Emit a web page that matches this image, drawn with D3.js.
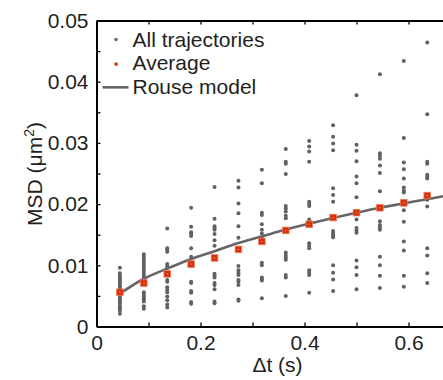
<!DOCTYPE html>
<html>
<head>
<meta charset="utf-8">
<script src="https://cdn.jsdelivr.net/npm/d3@7"></script>
<style>
  body { margin: 0; background: #fff; }
  svg { display: block; font-family: "Liberation Sans", Arial, sans-serif; }
</style>
</head>
<body>
<svg id="chart" width="443" height="380"></svg>
<script>
// lag times (s), one column of points per lag
const lags = [0.045, 0.091, 0.136, 0.182, 0.227, 0.273, 0.318, 0.364, 0.409, 0.455, 0.500, 0.545, 0.591, 0.636];

// MSD of every single trajectory, per lag (um^2)
const trajectories = [
  [0.0096, 0.0087, 0.0083, 0.0080, 0.0077, 0.0074, 0.0071, 0.0068, 0.0065, 0.0062, 0.0058, 0.0050, 0.0046, 0.0043, 0.0040, 0.0037, 0.0033, 0.0030, 0.0026, 0.0021],
  [0.0118, 0.0114, 0.0110, 0.0106, 0.0102, 0.0098, 0.0094, 0.0090, 0.0086, 0.0083, 0.0079, 0.0076, 0.0056, 0.0053, 0.0050, 0.0047, 0.0044, 0.0041, 0.0033, 0.0029],
  [0.0160, 0.0128, 0.0125, 0.0122, 0.0102, 0.0099, 0.0096, 0.0076, 0.0073, 0.0064, 0.0060, 0.0056, 0.0049, 0.0043, 0.0036, 0.0031],
  [0.0194, 0.0163, 0.0154, 0.0151, 0.0148, 0.0128, 0.0114, 0.0073, 0.0071, 0.0058, 0.0055, 0.0040, 0.0037],
  [0.0228, 0.0176, 0.0164, 0.0161, 0.0158, 0.0151, 0.0141, 0.0132, 0.0086, 0.0083, 0.0080, 0.0071, 0.0068, 0.0061, 0.0041, 0.0038],
  [0.0238, 0.0227, 0.0201, 0.0185, 0.0164, 0.0145, 0.0099, 0.0092, 0.0088, 0.0084, 0.0076, 0.0073, 0.0068, 0.0044, 0.0042],
  [0.0256, 0.0234, 0.0186, 0.0182, 0.0167, 0.0158, 0.0152, 0.0145, 0.0104, 0.0100, 0.0080, 0.0077, 0.0075, 0.0046],
  [0.0290, 0.0269, 0.0266, 0.0249, 0.0197, 0.0193, 0.0188, 0.0181, 0.0177, 0.0121, 0.0117, 0.0113, 0.0109, 0.0084, 0.0080, 0.0050],
  [0.0303, 0.0294, 0.0286, 0.0269, 0.0204, 0.0200, 0.0197, 0.0175, 0.0136, 0.0132, 0.0128, 0.0092, 0.0088, 0.0084, 0.0055],
  [0.0329, 0.0310, 0.0299, 0.0288, 0.0226, 0.0215, 0.0204, 0.0156, 0.0152, 0.0149, 0.0146, 0.0100, 0.0088, 0.0077, 0.0058],
  [0.0378, 0.0297, 0.0287, 0.0270, 0.0245, 0.0234, 0.0211, 0.0175, 0.0161, 0.0157, 0.0153, 0.0108, 0.0097, 0.0084, 0.0061],
  [0.0412, 0.0283, 0.0279, 0.0274, 0.0263, 0.0251, 0.0221, 0.0172, 0.0166, 0.0162, 0.0158, 0.0114, 0.0100, 0.0083, 0.0063],
  [0.0434, 0.0308, 0.0268, 0.0257, 0.0242, 0.0227, 0.0222, 0.0219, 0.0190, 0.0171, 0.0139, 0.0124, 0.0083, 0.0065],
  [0.0464, 0.0347, 0.0269, 0.0266, 0.0248, 0.0245, 0.0242, 0.0207, 0.0196, 0.0128, 0.0116, 0.0087, 0.0071]
];

// ensemble average per lag
const average = [0.0056, 0.0071, 0.0086, 0.0102, 0.0112, 0.0126, 0.0139, 0.0157, 0.0167, 0.0178, 0.0186, 0.0194, 0.0202, 0.0214];

// Rouse model curve
const rouseT = [0.042, 0.091, 0.137, 0.181, 0.227, 0.271, 0.317, 0.362, 0.408, 0.453, 0.500, 0.545, 0.590, 0.636, 0.680];
const rouseMsd = [0.0052, 0.0078, 0.0095, 0.0110, 0.0123, 0.0136, 0.0147, 0.0158, 0.0168, 0.0177, 0.0186, 0.0194, 0.0201, 0.0208, 0.0215];

const xTicks = [0, 0.1, 0.2, 0.3, 0.4, 0.5, 0.6, 0.7];
const yTicks = d3.range(0, 0.0501, 0.005);

const svg = d3.select('#chart');
const x = d3.scaleLinear().domain([0, 0.7]).range([96.5, 460.5]);
const y = d3.scaleLinear().domain([0, 0.05]).range([326.5, 20.5]);

const fontSize = 21;

// scatter of all trajectories
const pts = [];
trajectories.forEach((col, i) => col.forEach(v => pts.push({ t: lags[i], v })));
svg.append('g')
  .selectAll('circle')
  .data(pts)
  .enter()
  .append('circle')
  .attr('cx', d => x(d.t))
  .attr('cy', d => y(d.v))
  .attr('r', 2)
  .attr('fill', '#616161');

// Rouse model line
const line = d3.line()
  .x(d => x(d[0]))
  .y(d => y(d[1]))
  .curve(d3.curveCatmullRom.alpha(0.5));
svg.append('path')
  .datum(rouseT.map((t, i) => [t, rouseMsd[i]]))
  .attr('d', line)
  .attr('fill', 'none')
  .attr('stroke', '#666')
  .attr('stroke-width', 2.6);

// averages
const avg = svg.append('g');
avg.selectAll('rect.avg')
  .data(average)
  .enter()
  .append('rect')
  .attr('class', 'avg')
  .attr('x', (d, i) => x(lags[i]) - 3.3)
  .attr('y', d => y(d) - 3.3)
  .attr('width', 6.6)
  .attr('height', 6.6)
  .attr('fill', '#d8310c')
  .attr('stroke', '#ea7a5c')
  .attr('stroke-width', 0.8);
avg.selectAll('rect.dot')
  .data(average)
  .enter()
  .append('rect')
  .attr('class', 'dot')
  .attr('x', (d, i) => x(lags[i]) - 0.5)
  .attr('y', d => y(d) - 0.5)
  .attr('width', 1)
  .attr('height', 1)
  .attr('fill', '#f3b09a');

// axes
const fmtY = d => {
  const m = Math.round(d * 1000);
  if (m % 10 !== 0) return '';
  return m === 0 ? '0' : d3.format('.2f')(d);
};
const fmtX = d => {
  const m = Math.round(d * 10);
  if (m % 2 !== 0) return '';
  return m === 0 ? '0' : d3.format('.1f')(d);
};

const gx = svg.append('g')
  .attr('transform', `translate(0,${y(0)})`)
  .call(d3.axisBottom(x).tickValues(xTicks).tickSizeInner(-4).tickSizeOuter(0).tickPadding(9).tickFormat(fmtX));
const gxTop = svg.append('g')
  .attr('transform', `translate(0,${y(0.05)})`)
  .call(d3.axisTop(x).tickValues(xTicks).tickSizeInner(-4).tickSizeOuter(0).tickFormat(''));
const gy = svg.append('g')
  .attr('transform', `translate(${x(0)},0)`)
  .call(d3.axisLeft(y).tickValues(yTicks).tickSizeInner(-4).tickSizeOuter(0).tickPadding(8).tickFormat(fmtY));

[gx, gxTop, gy].forEach(g => {
  g.select('.domain').attr('stroke', '#000').attr('stroke-width', 2);
  g.selectAll('.tick line').attr('stroke', '#000').attr('stroke-width', 1.3);
  g.selectAll('.tick text')
    .attr('font-size', fontSize)
    .attr('font-family', '"Liberation Sans", Arial, sans-serif')
    .attr('fill', '#231f20');
});

// axis titles
svg.append('text')
  .attr('x', 277.5)
  .attr('y', 372)
  .attr('text-anchor', 'middle')
  .attr('font-size', fontSize)
  .attr('fill', '#231f20')
  .text('\u0394t (s)');

const yt = svg.append('text')
  .attr('transform', 'translate(42,174) rotate(-90)')
  .attr('text-anchor', 'middle')
  .attr('font-size', fontSize)
  .attr('fill', '#231f20');
yt.append('tspan').text('MSD (\u03bcm');
yt.append('tspan').attr('font-size', 14).attr('dy', -8).text('2');
yt.append('tspan').attr('dy', 8).text(')');

// legend
const legend = svg.append('g');
legend.append('circle').attr('cx', 116).attr('cy', 39.5).attr('r', 1.8).attr('fill', '#666');
legend.append('rect').attr('x', 114.5).attr('y', 62.5).attr('width', 3.2).attr('height', 3.2).attr('fill', '#d8310c');
legend.append('line').attr('x1', 102.5).attr('x2', 128.5).attr('y1', 87.3).attr('y2', 87.3)
  .attr('stroke', '#666').attr('stroke-width', 2.6);
const legendText = ['All trajectories', 'Average', 'Rouse model'];
legend.selectAll('text')
  .data(legendText)
  .enter()
  .append('text')
  .attr('x', 132.5)
  .attr('y', (d, i) => 46.5 + i * 23.8)
  .attr('font-size', fontSize)
  .attr('fill', '#231f20')
  .text(d => d);
</script>
</body>
</html>
